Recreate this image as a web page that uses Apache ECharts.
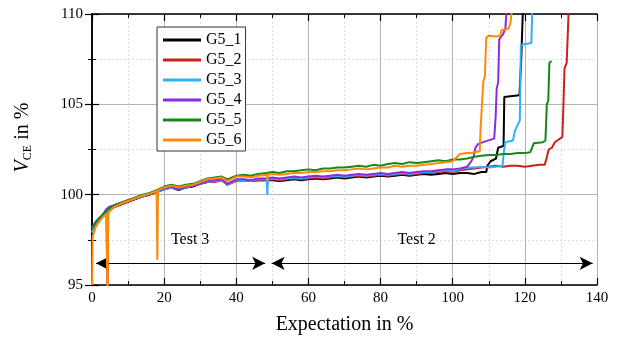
<!DOCTYPE html>
<html>
<head>
<meta charset="utf-8">
<script src="https://cdn.jsdelivr.net/npm/echarts@6/dist/echarts.min.js"></script>
<style>
  html, body { margin: 0; padding: 0; background: #fff; }
  #chart { width: 625px; height: 343px; }
</style>
</head>
<body>
<div id="chart"></div>
<script>
// shared expectation grid (%) for the slow drift part of every curve
const expectation = [0, 0.2, 1, 2, 3, 4, 4.3, 4.5, 5, 6, 8, 10, 12, 14, 16, 17.9, 18.1, 18.3,
  20, 22, 24, 26, 28, 30, 32, 34, 36, 37.5, 38, 40, 42, 44, 46, 48.4, 48.6, 48.8,
  50, 52, 54, 56, 58, 60, 62, 64, 66, 68, 70, 72, 74, 76, 78, 80, 82, 84, 86, 88,
  90, 92, 94, 96, 98, 100, 102, 104];

const g5_1 = [97.8, 98.0, 98.3, 98.55, 98.8, 99.0, 99.05, 99.1, 99.15, 99.3, 99.45, 99.6, 99.75, 99.9, 100.0, 100.15, 100.2, 100.2,
  100.3, 100.4, 100.25, 100.4, 100.45, 100.6, 100.7, 100.75, 100.8, 100.55, 100.65, 100.8, 100.8, 100.75, 100.8, 100.8, 100.75, 100.8,
  100.8, 100.75, 100.8, 100.85, 100.8, 100.85, 100.9, 100.85, 100.9, 100.95, 100.9, 100.95, 101.0, 100.95, 101.0, 101.05, 101.0, 101.05, 101.1, 101.05,
  101.1, 101.15, 101.1, 101.15, 101.2, 101.15, 101.2, 101.2];
const g5_2 = [97.9, 98.0, 98.3, 98.55, 98.8, 99.0, 94.5, 99.1, 99.15, 99.3, 99.45, 99.6, 99.75, 99.9, 100.0, 100.15, 100.15, 100.2,
  100.3, 100.4, 100.3, 100.4, 100.5, 100.6, 100.7, 100.7, 100.8, 100.55, 100.6, 100.75, 100.8, 100.75, 100.8, 100.8, 100.8, 100.8,
  100.85, 100.8, 100.85, 100.9, 100.85, 100.9, 100.95, 100.9, 100.95, 101.0, 100.95, 101.0, 101.05, 101.0, 101.05, 101.1, 101.05, 101.1, 101.15, 101.1,
  101.15, 101.2, 101.2, 101.25, 101.3, 101.25, 101.35, 101.4];
const g5_3 = [97.9, 98.05, 98.35, 98.6, 98.85, 99.05, 99.1, 99.15, 99.2, 99.3, 99.5, 99.65, 99.8, 99.9, 100.05, 100.15, 100.15, 100.2,
  100.3, 100.4, 100.3, 100.4, 100.5, 100.6, 100.7, 100.75, 100.8, 100.55, 100.65, 100.8, 100.8, 100.75, 100.85, 100.85, 100.0, 100.85,
  100.9, 100.85, 100.9, 100.95, 100.9, 100.95, 101.0, 100.95, 101.0, 101.05, 101.0, 101.05, 101.1, 101.05, 101.1, 101.15, 101.1, 101.15, 101.2, 101.15,
  101.2, 101.25, 101.25, 101.3, 101.35, 101.3, 101.4, 101.5];
const g5_4 = [98.2, 98.3, 98.5, 98.7, 98.9, 99.2, 99.3, 99.3, 99.35, 99.4, 99.55, 99.7, 99.8, 99.95, 100.05, 100.2, 100.2, 100.25,
  100.35, 100.45, 100.3, 100.45, 100.5, 100.6, 100.75, 100.8, 100.85, 100.6, 100.7, 100.85, 100.85, 100.8, 100.9, 100.9, 100.85, 100.9,
  100.95, 100.9, 100.95, 101.0, 100.95, 101.0, 101.05, 101.0, 101.05, 101.1, 101.05, 101.1, 101.15, 101.1, 101.15, 101.2, 101.15, 101.2, 101.25, 101.2,
  101.25, 101.3, 101.3, 101.35, 101.4, 101.4, 101.45, 101.55];
const g5_5 = [98.1, 98.2, 98.45, 98.7, 98.9, 99.1, 99.15, 99.2, 99.25, 99.4, 99.55, 99.7, 99.85, 100.0, 100.1, 100.25, 100.3, 100.3,
  100.45, 100.55, 100.45, 100.55, 100.6, 100.75, 100.9, 100.95, 101.0, 100.85, 100.9, 101.05, 101.1, 101.05, 101.15, 101.2, 101.25, 101.2,
  101.25, 101.2, 101.3, 101.3, 101.35, 101.4, 101.35, 101.45, 101.45, 101.5, 101.5, 101.55, 101.6, 101.55, 101.65, 101.6, 101.7, 101.75, 101.7, 101.8,
  101.75, 101.8, 101.85, 101.9, 101.85, 101.95, 101.95, 102.0];
const g5_6 = [95.0, 97.7, 98.2, 98.5, 98.75, 98.95, 94.5, 99.0, 99.1, 99.3, 99.5, 99.65, 99.8, 99.95, 100.05, 100.2, 96.4, 100.25,
  100.4, 100.5, 100.4, 100.5, 100.55, 100.7, 100.85, 100.9, 100.95, 100.75, 100.85, 101.0, 101.0, 100.95, 101.05, 101.1, 100.8, 101.1,
  101.15, 101.1, 101.15, 101.2, 101.2, 101.25, 101.25, 101.3, 101.3, 101.35, 101.35, 101.4, 101.45, 101.4, 101.45, 101.5, 101.5, 101.6, 101.55, 101.6,
  101.6, 101.65, 101.7, 101.75, 101.8, 101.85, 102.25, 102.3];

// breakdown tails [expectation, V_CE]
const tail1 = [[106, 101.15], [108, 101.25], [109.3, 101.25], [109.6, 101.6], [110.5, 101.85], [112, 102.0], [112.6, 102.6],
  [114.1, 102.7], [114.3, 105.4], [116, 105.45], [118.5, 105.5], [119, 107.5], [119.5, 110.5]];
const tail2 = [[106, 101.45], [108, 101.5], [110, 101.55], [112, 101.6], [114, 101.55], [116, 101.6], [118, 101.6], [120, 101.55],
  [122, 101.6], [124, 101.65], [125.5, 101.65], [126, 102.0], [126.6, 102.5], [127.5, 102.6], [128.3, 102.9], [129, 103.0],
  [130.4, 103.2], [130.7, 105.0], [131, 107.0], [131.6, 107.3], [132.2, 110.5]];
const tail3 = [[106, 101.5], [108, 101.55], [110, 101.5], [112, 101.55], [113.8, 101.6], [114.2, 102.4], [114.6, 102.9],
  [116.7, 103.0], [117.2, 103.5], [118.1, 103.9], [118.6, 104.1], [118.9, 108.3], [121.8, 108.4], [122.1, 110.5]];
const tail4 = [[105, 101.8], [105.8, 102.1], [106.3, 102.6], [107, 102.8], [109, 102.95], [111.5, 103.1], [111.9, 104.3],
  [112.2, 105.9], [112.6, 106.2], [112.9, 108.6], [114, 108.9], [114.6, 109.2], [115, 110.5]];
const tail5 = [[106, 102.1], [108, 102.15], [110, 102.2], [112, 102.2], [114, 102.25], [116, 102.25], [118, 102.3], [120, 102.3],
  [121.5, 102.35], [122, 102.6], [122.5, 102.85], [125, 102.9], [125.7, 103.0], [126.1, 105.0], [126.5, 105.2], [126.8, 107.3], [127.4, 107.4]];
const tail6 = [[105, 102.3], [106, 102.35], [107.5, 102.4], [107.7, 103.6], [108.2, 103.7], [108.5, 106.3], [108.9, 106.5],
  [109.3, 108.7], [110, 108.8], [112, 108.75], [113.2, 108.8], [113.5, 109.1], [115.5, 109.2], [116, 109.5], [116.6, 110.5]];

const names = ["G5_1", "G5_2", "G5_3", "G5_4", "G5_5", "G5_6"];
const colors = ["#000000", "#c8201e", "#30b0ff", "#8a2be2", "#14891a", "#ff8a0a"];
const drift = [g5_1, g5_2, g5_3, g5_4, g5_5, g5_6];
const tails = [tail1, tail2, tail3, tail4, tail5, tail6];

// test ranges (arrows) and their labels
const test3 = { from: 1.1, to: 48.0, y: 96.2, label: "Test 3", at: [27.2, 97.5] };
const test2 = { from: 49.8, to: 138.8, y: 96.2, label: "Test 2", at: [90, 97.5] };

const serif = "'Liberation Serif', 'DejaVu Serif', serif";
const chart = echarts.init(document.getElementById("chart"));

const series = names.map((name, i) => ({
  name: name,
  type: "line",
  data: expectation.map((x, k) => [x, drift[i][k]]).concat(tails[i]),
  showSymbol: false,
  symbol: "none",
  clip: true,
  lineStyle: { color: colors[i], width: 2 },
  itemStyle: { color: colors[i] },
  z: 3 + i,
}));

series.push({
  name: "tests",
  type: "line",
  data: [],
  z: 10,
  markLine: {
    silent: true,
    symbol: ["arrow", "arrow"],
    symbolSize: [10, 13],
    label: { show: false },
    lineStyle: { color: "#000", width: 1.2, type: "solid" },
    data: [test3, test2].map((t) => [{ coord: [t.from, t.y] }, { coord: [t.to, t.y] }]),
  },
  markPoint: {
    silent: true,
    symbol: "circle",
    symbolSize: 0,
    label: {
      show: true,
      position: "inside",
      formatter: "{b}",
      color: "#000",
      fontFamily: serif,
      fontSize: 16,
    },
    data: [test3, test2].map((t) => ({ name: t.label, coord: t.at })),
  },
});

const frameAxis = {
  axisLine: { show: true, lineStyle: { color: "#000", width: 1.5 } },
  axisTick: { show: true, inside: true, length: 7, lineStyle: { color: "#000", width: 1.2 } },
  minorTick: { show: true, splitNumber: 2, length: 4, lineStyle: { color: "#000", width: 1 } },
};

chart.setOption({
  animation: false,
  backgroundColor: "#fff",
  grid: { left: 92, right: 28, top: 14, bottom: 58 },
  legend: {
    data: names,
    orient: "vertical",
    left: 157,
    top: 27,
    padding: [5, 4, 3, 6],
    itemGap: 4,
    itemWidth: 38,
    itemHeight: 3,
    icon: "rect",
    backgroundColor: "#fff",
    borderColor: "#333",
    borderWidth: 1,
    borderRadius: 0,
    textStyle: { fontFamily: serif, fontSize: 16, color: "#000" },
  },
  xAxis: [
    {
      type: "value",
      min: 0,
      max: 140,
      interval: 20,
      name: "Expectation in %",
      nameLocation: "middle",
      nameGap: 30,
      nameTextStyle: { fontFamily: serif, fontSize: 20, color: "#000" },
      ...frameAxis,
      axisLabel: { fontFamily: serif, fontSize: 15, color: "#000", margin: 6 },
      splitLine: { show: true, lineStyle: { color: "#b4b4b4", width: 1 } },
      minorSplitLine: { show: true, lineStyle: { color: "#dcdcdc", width: 1, type: [2, 2] } },
    },
    {
      type: "value",
      position: "top",
      min: 0,
      max: 140,
      interval: 20,
      ...frameAxis,
      axisLabel: { show: false },
      splitLine: { show: false },
    },
  ],
  yAxis: [
    {
      type: "value",
      min: 95,
      max: 110,
      interval: 5,
      name: "{v|V}{sub|CE}{t| in %}",
      nameLocation: "middle",
      nameGap: 58,
      nameTextStyle: {
        fontFamily: serif,
        fontSize: 20,
        color: "#000",
        padding: [0, 0, 0, 24],
        rich: {
          v: { fontFamily: serif, fontSize: 20, fontStyle: "italic", color: "#000" },
          sub: { fontFamily: serif, fontSize: 12, color: "#000", padding: [10, 0, 0, 0] },
          t: { fontFamily: serif, fontSize: 20, color: "#000" },
        },
      },
      ...frameAxis,
      axisLabel: { fontFamily: serif, fontSize: 15, color: "#000", margin: 9 },
      splitLine: { show: true, lineStyle: { color: "#b4b4b4", width: 1 } },
      minorSplitLine: { show: true, lineStyle: { color: "#dcdcdc", width: 1, type: [2, 2] } },
    },
    {
      type: "value",
      position: "right",
      min: 95,
      max: 110,
      interval: 5,
      ...frameAxis,
      axisLabel: { show: false },
      splitLine: { show: false },
    },
  ],
  series: series,
});
</script>
</body>
</html>
